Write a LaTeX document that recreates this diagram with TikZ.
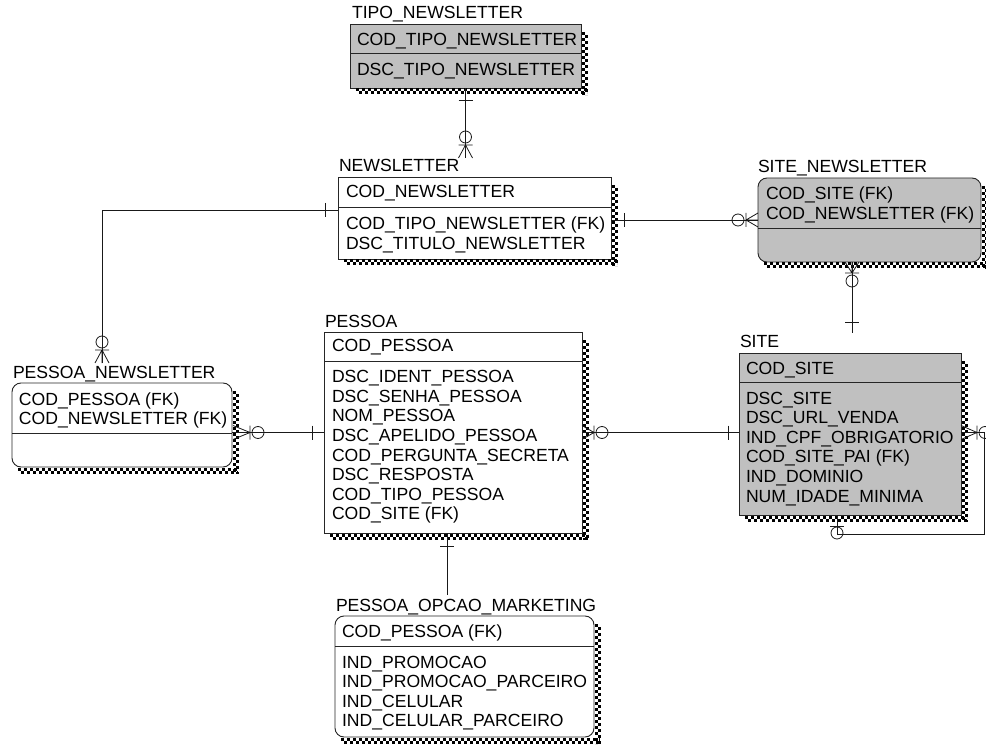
\documentclass[tikz,border=0pt]{standalone}
\usepackage{fontspec}
\setmainfont{Liberation Sans}
\usetikzlibrary{calc}
\definecolor{entgray}{RGB}{192,192,192}
% checkered drop shadow along the right and bottom edges of an entity box
\newcommand\eshadow[1]{%
  \draw[chk] ([xshift=2pt,yshift=-8pt]#1.north east) -- ([xshift=2pt,yshift=-7pt]#1.south east);
  \draw[chk,dash phase=3pt] ([xshift=5pt,yshift=-8pt]#1.north east) -- ([xshift=5pt,yshift=-7pt]#1.south east);
  \draw[chk] ([xshift=6pt,yshift=-2pt]#1.south west) -- ([xshift=6pt,yshift=-2pt]#1.south east);
  \draw[chk,dash phase=3pt] ([xshift=6pt,yshift=-5pt]#1.south west) -- ([xshift=6pt,yshift=-5pt]#1.south east);
}
\begin{document}
\begin{tikzpicture}[x=1pt,y=-1pt,
  every node/.style={inner sep=0pt,outer sep=0pt},
  ent/.style={draw=black!85,line width=0.9pt,anchor=north west},
  divline/.style={draw=black!85,line width=0.9pt},
  txt/.style={anchor=base west,font=\fontsize{17.6}{19.6}\selectfont,text=black},
  conn/.style={draw=black!90,line width=0.8pt},
  chk/.style={line width=3pt,dash pattern=on 3pt off 3pt,black},
  pics/many/.style={code={
    \draw[conn] (0,0) -- (#1,-7) (0,0) -- (#1,0) (0,0) -- (#1,7) (0,-7) -- (0,7) (-8,0) circle (6pt);}},
  pics/many/.default=13,
  pics/one/.style={code={\draw[conn] (0,-7) -- (0,7);}},
]
\fill[white] (0,0) rectangle (986,746);
\useasboundingbox (0,0) rectangle (986,746);

% ---------- entity boxes ----------
\node[ent,fill=entgray,minimum width=231pt,minimum height=64pt] (tipo) at (350,24) {};
\node[ent,minimum width=273pt,minimum height=82pt] (nl) at (338,177) {};
\node[ent,fill=entgray,rounded corners=9pt,minimum width=223pt,minimum height=84pt] (sn) at (758,178) {};
\node[ent,rounded corners=9pt,minimum width=220pt,minimum height=84pt] (pn) at (12,383) {};
\node[ent,minimum width=258pt,minimum height=201pt] (pe) at (324,332) {};
\node[ent,fill=entgray,minimum width=222pt,minimum height=162pt] (site) at (739,353) {};
\node[ent,rounded corners=9pt,minimum width=259pt,minimum height=121pt] (pom) at (335,616) {};

\foreach \e in {tipo,nl,sn,pn,pe,site,pom} {\eshadow{\e}}

% key / non-key separators
\draw[divline] ($(tipo.north west)+(0,29)$) -- ($(tipo.north east)+(0,29)$);
\draw[divline] ($(nl.north west)+(0,30)$) -- ($(nl.north east)+(0,30)$);
\draw[divline] ($(sn.north west)+(0,50)$) -- ($(sn.north east)+(0,50)$);
\draw[divline] ($(pn.north west)+(0,50)$) -- ($(pn.north east)+(0,50)$);
\draw[divline] ($(pe.north west)+(0,29)$) -- ($(pe.north east)+(0,29)$);
\draw[divline] ($(site.north west)+(0,29)$) -- ($(site.north east)+(0,29)$);
\draw[divline] ($(pom.north west)+(0,30)$) -- ($(pom.north east)+(0,30)$);

% ---------- titles ----------
\node[txt] (tipoT) at (352,19) {TIPO\_NEWSLETTER};
\node[txt] (nlT) at (339,172) {NEWSLETTER};
\node[txt] (snT) at (758,173) {SITE\_NEWSLETTER};
\node[txt] (pnT) at (13,378) {PESSOA\_NEWSLETTER};
\node[txt] (peT) at (325,327) {PESSOA};
\node[txt] (siteT) at (740,348) {SITE};
\node[txt] (pomT) at (336,611) {PESSOA\_OPCAO\_MARKETING};

% ---------- attributes ----------
\node[txt] at (357,46) {COD\_TIPO\_NEWSLETTER};
\node[txt] at (357,76) {DSC\_TIPO\_NEWSLETTER};

\node[txt] at (346,198) {COD\_NEWSLETTER};
\node[txt] at (346,230) {COD\_TIPO\_NEWSLETTER (FK)};
\node[txt] at (346,249.6) {DSC\_TITULO\_NEWSLETTER};

\node[txt] at (766,200) {COD\_SITE (FK)};
\node[txt] at (766,219.6) {COD\_NEWSLETTER (FK)};

\node[txt] at (19,405) {COD\_PESSOA (FK)};
\node[txt] at (19,424.6) {COD\_NEWSLETTER (FK)};

\node[txt] at (332,352) {COD\_PESSOA};
\foreach \t [count=\i from 0] in {DSC\_IDENT\_PESSOA,DSC\_SENHA\_PESSOA,NOM\_PESSOA,DSC\_APELIDO\_PESSOA,COD\_PERGUNTA\_SECRETA,DSC\_RESPOSTA,COD\_TIPO\_PESSOA,COD\_SITE (FK)}
  \node[txt] at (332,382.7+19.6*\i) {\t};

\node[txt] at (746,374) {COD\_SITE};
\foreach \t [count=\i from 0] in {DSC\_SITE,DSC\_URL\_VENDA,IND\_CPF\_OBRIGATORIO,COD\_SITE\_PAI (FK),IND\_DOMINIO,NUM\_IDADE\_MINIMA}
  \node[txt] at (746,404+19.6*\i) {\t};

\node[txt] at (342,637) {COD\_PESSOA (FK)};
\foreach \t [count=\i from 0] in {IND\_PROMOCAO,IND\_PROMOCAO\_PARCEIRO,IND\_CELULAR,IND\_CELULAR\_PARCEIRO}
  \node[txt] at (342,668+19.6*\i) {\t};

% ---------- relationships ----------
% TIPO_NEWSLETTER -> NEWSLETTER
\coordinate (nlIn) at (465.5,158);
\draw[conn] (tipo.south) -- (nlIn);
\pic[rotate=90] at (465.5,100) {one};
\pic[rotate=-90] at (465.5,145) {many};

% NEWSLETTER -> SITE_NEWSLETTER
\draw[conn] (nl.east |- sn.west) -- (sn.west);
\pic at (624,220) {one};
\pic at (746,220) {many=12};

% NEWSLETTER -> PESSOA_NEWSLETTER
\coordinate (pnIn) at (102,363);
\draw[conn] ($(nl.north west)+(0,33)$) -| (pnIn);
\pic at (325,210) {one};
\pic[rotate=-90] at (102,350) {many};

% PESSOA -> PESSOA_NEWSLETTER
\draw[conn] (pn.east |- pe.west) -- (pe.west);
\pic[rotate=180] at (250,432.5) {many=17};
\pic at (312,432.5) {one};

% SITE -> PESSOA
\draw[conn] (pe.east) -- (site.west |- pe.east);
\pic[rotate=180] at (594,432.5) {many=12};
\pic at (728,432.5) {one};

% SITE -> SITE_NEWSLETTER
\draw[conn] ($(sn.south west)+(94,0)$) -- ($(site.north west)+(113,-20)$);
\pic[rotate=90] at (852,273) {many=11};
\pic[rotate=90] at (852,322) {one};

% SITE -> SITE (parent site)
\draw[conn] (site.east |- pe.east) -| (984,534) -| ($(site.south west)+(98,0)$);
\pic[rotate=180] at (977,432.5) {many=16};
\pic[rotate=90] at (837,526) {one};
\draw[conn] (837,533) circle (6pt);

% PESSOA -> PESSOA_OPCAO_MARKETING
\draw[conn] ($(pe.south west)+(123,0)$) -- ($(pom.north west)+(112,-21)$);
\pic[rotate=90] at (447,546) {one};
\end{tikzpicture}
\end{document}
